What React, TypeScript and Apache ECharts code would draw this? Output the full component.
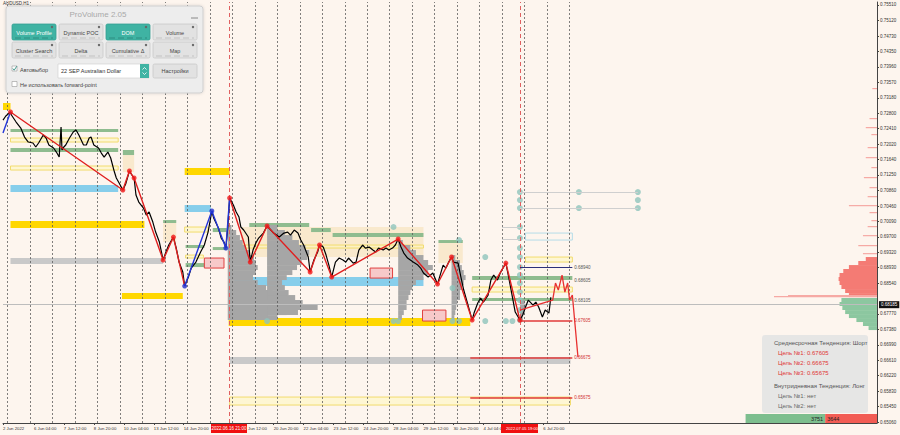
import React, { useEffect, useRef } from "react";
import * as echarts from "echarts";

// ---------- axes ----------
const yLabelValues = [0.7551, 0.7512, 0.7473, 0.7435, 0.7396, 0.7357, 0.7318, 0.728, 0.7241, 0.7202, 0.7164, 0.7125, 0.7086, 0.7046, 0.7009, 0.697, 0.6932, 0.6893, 0.6854, 0.6777, 0.6738, 0.6699, 0.6661, 0.6622, 0.6583, 0.6545, 0.6506];
const xLabelBars = [-29, 4, 36, 68, 100, 132, 164, 260, 292, 324, 356, 388, 420, 452, 484, 548];
const xLabelTexts = ["2 Jun 2022", "6 Jun 04:00", "7 Jun 12:00", "8 Jun 20:00", "10 Jun 04:00", "13 Jun 12:00", "14 Jun 20:00", "20 Jun 20:00", "22 Jun 04:00", "23 Jun 12:00", "24 Jun 20:00", "28 Jun 04:00", "29 Jun 12:00", "30 Jun 20:00", "4 Jul 04:00", "6 Jul 20:00"];
const daySeparators = [-24, 0, 24, 48, 72, 96, 120, 144, 168, 192, 216, 240, 264, 288, 312, 336, 360, 384, 408, 432, 456, 480, 504, 528, 552, 576];
const markedBars = [213, 523];
const currentPrice = 0.68185;

// ---------- price (H1 close path) ----------
const priceBars = [-29, -26, -21, -20, -15, -10, -6, -2, 3, 6, 9, 14, 17, 20, 25, 28, 31, 33, 34, 35, 38, 42, 46, 49, 52, 57, 60, 63, 65, 68, 73, 76, 79, 83, 86, 90, 92, 95, 99, 102, 106, 110, 111, 113, 116, 121, 124, 127, 131, 134, 138, 142, 145, 148, 153, 156, 159, 163, 165, 169, 172, 177, 182, 186, 190, 194, 196, 201, 204, 207, 209, 211, 213, 217, 220, 223, 225, 228, 233, 235, 238, 241, 244, 249, 253, 255, 260, 266, 271, 275, 278, 282, 286, 289, 292, 297, 299, 303, 307, 309, 313, 316, 319, 322, 326, 330, 334, 337, 340, 345, 348, 351, 355, 358, 362, 366, 369, 372, 377, 380, 383, 387, 390, 393, 396, 399, 403, 409, 414, 417, 420, 425, 430, 435, 441, 444, 447, 450, 452, 457, 460, 463, 467, 472, 474, 478, 481, 484, 489, 492, 495, 499, 502, 508, 511, 515, 518, 523, 526, 529, 532, 537, 540, 543, 547, 550, 554, 556];
const priceValues = [0.72627, 0.72728, 0.72828, 0.72753, 0.72577, 0.72427, 0.72201, 0.72076, 0.72051, 0.71951, 0.72051, 0.72252, 0.72176, 0.72001, 0.71926, 0.71825, 0.717, 0.72452, 0.71876, 0.71926, 0.72001, 0.72176, 0.72327, 0.72377, 0.72252, 0.72001, 0.72001, 0.72176, 0.72201, 0.72001, 0.71926, 0.718, 0.717, 0.71825, 0.71675, 0.71324, 0.71174, 0.71048, 0.70873, 0.71023, 0.71349, 0.71199, 0.71174, 0.70748, 0.70572, 0.70422, 0.70247, 0.70322, 0.70071, 0.6982, 0.6957, 0.69119, 0.69319, 0.69495, 0.69695, 0.69419, 0.69068, 0.68818, 0.68467, 0.68692, 0.68918, 0.69068, 0.69319, 0.69495, 0.6982, 0.70347, 0.70171, 0.69921, 0.6967, 0.6957, 0.69419, 0.69921, 0.70673, 0.70497, 0.70322, 0.70196, 0.69946, 0.69871, 0.69695, 0.69068, 0.69369, 0.69545, 0.6967, 0.69795, 0.69971, 0.69921, 0.69795, 0.69695, 0.69795, 0.6982, 0.69745, 0.69871, 0.69795, 0.6962, 0.69495, 0.69194, 0.68818, 0.69119, 0.69319, 0.69495, 0.69444, 0.69244, 0.68993, 0.68692, 0.69068, 0.69169, 0.69119, 0.69068, 0.69169, 0.69043, 0.69068, 0.69369, 0.69495, 0.69419, 0.69444, 0.69369, 0.69319, 0.69419, 0.69369, 0.69419, 0.69369, 0.69419, 0.69495, 0.69645, 0.69444, 0.69294, 0.69169, 0.69068, 0.68993, 0.68918, 0.68793, 0.68692, 0.68793, 0.68517, 0.68993, 0.68918, 0.69068, 0.69194, 0.69068, 0.69043, 0.68692, 0.68367, 0.68041, 0.67615, 0.6779, 0.68041, 0.68166, 0.68066, 0.68241, 0.68617, 0.68742, 0.68617, 0.68793, 0.69043, 0.68692, 0.68191, 0.67815, 0.67615, 0.6774, 0.67941, 0.68116, 0.67991, 0.68066, 0.67941, 0.6769, 0.67865, 0.6779, 0.68185];

// ---------- zigzag swings ----------
const zigRedABars = [-21, 99, 106, 111, 142, 153, 165];
const zigRedAValues = [0.72828, 0.70873, 0.71349, 0.71174, 0.69119, 0.69695, 0.68467];
const zigBlueABars = [-29, -21];
const zigBlueAValues = [0.72302, 0.72828];
const zigBlueBBars = [165, 194, 209, 213];
const zigBlueBValues = [0.68467, 0.70347, 0.69419, 0.70673];
const zigRedBBars = [213, 235, 253, 299, 309, 322, 393, 435, 450, 472, 508, 523];
const zigRedBValues = [0.70673, 0.69068, 0.69971, 0.68818, 0.69495, 0.68692, 0.69645, 0.68517, 0.69194, 0.67615, 0.69043, 0.67615];
const projBars = [523, 558, 561, 564, 568, 571, 574, 576, 579, 585];
const projValues = [0.67865, 0.68116, 0.68542, 0.68367, 0.68742, 0.68317, 0.68542, 0.68116, 0.68241, 0.66687];
const blueDotBars = [165, 194, 209];
const blueDotValues = [0.68467, 0.70347, 0.69419];
const redDotBars = [-21, 99, 106, 111, 142, 153, 213, 235, 253, 299, 309, 322, 393, 435, 450, 472, 508, 523];
const redDotValues = [0.72828, 0.70873, 0.71349, 0.71174, 0.69119, 0.69695, 0.70673, 0.69068, 0.69971, 0.68818, 0.69495, 0.68692, 0.69645, 0.68517, 0.69194, 0.67615, 0.69043, 0.67615];

// ---------- teal cluster points ----------
const tealBars = [523, 523, 523, 586, 586, 649, 649, 649, 523, 523, 523, 523, 523, 523, 523, 523, 523, 523, 523, 458, 486, 451, 451, 458, 486, 508, 515, 253, 388, 388, 393];
const tealValues = [0.70823, 0.70622, 0.70422, 0.70823, 0.70422, 0.70823, 0.70622, 0.70422, 0.69946, 0.6967, 0.69419, 0.69194, 0.68943, 0.68742, 0.68542, 0.68317, 0.68116, 0.67865, 0.67615, 0.6962, 0.69194, 0.68417, 0.6759, 0.6759, 0.6759, 0.6759, 0.6759, 0.6759, 0.69946, 0.6759, 0.6759];

// ---------- zones ----------
const zoneKind = ["gold", "green", "yel", "green", "yel", "blue", "gold", "gray", "gold", "tan", "green", "gold", "blue", "yel", "green", "tan", "green", "green", "yel", "green", "green", "tan", "green", "green", "green", "yel", "blue", "gold", "green", "tan", "gray", "yel", "lblue", "yel", "green", "yel", "green", "pink", "pink", "pink"];
const zoneFrom = [-29, -21, -21, -21, -21, -21, -21, -21, 98, 99, 99, 165, 165, 165, 142, 142, 166, 166, 166, 195, 195, 225, 234, 300, 323, 225, 218, 212, 436, 436, 213, 213, 529, 529, 472, 472, 472, 186, 363, 419];
const zoneTo = [-21, 94, 94, 94, 94, 94, 122, 142, 163, 111, 111, 213, 193, 190, 156, 156, 186, 190, 185, 210, 210, 420, 298, 321, 420, 420, 420, 470, 462, 462, 577, 577, 579, 579, 579, 579, 579, 207, 387, 444];
const zoneHigh = [0.73054, 0.72402, 0.72176, 0.71926, 0.71475, 0.70998, 0.70096, 0.69169, 0.68291, 0.7175, 0.71876, 0.71424, 0.70497, 0.69946, 0.70121, 0.70046, 0.69495, 0.69043, 0.69244, 0.69921, 0.69444, 0.69946, 0.70046, 0.69921, 0.69795, 0.69495, 0.68692, 0.67665, 0.6962, 0.69545, 0.66687, 0.65685, 0.69795, 0.69194, 0.68718, 0.68442, 0.68166, 0.69169, 0.68918, 0.67865];
const zoneLow = [0.72878, 0.72327, 0.72076, 0.71825, 0.71374, 0.70823, 0.69921, 0.69018, 0.68141, 0.71324, 0.7175, 0.71249, 0.70322, 0.6982, 0.70046, 0.6957, 0.69419, 0.68943, 0.69169, 0.6982, 0.69369, 0.69194, 0.69946, 0.6982, 0.69695, 0.69419, 0.68467, 0.67464, 0.69545, 0.69043, 0.66512, 0.65485, 0.6962, 0.69068, 0.68617, 0.68317, 0.68091, 0.68918, 0.68667, 0.6759];

// ---------- volume profiles (start bar, level top, length in bars) ----------
const profStart = [211, 211, 211, 211, 211, 211, 211, 211, 211, 211, 211, 211, 211, 211, 211, 211, 211, 211, 211,
  253, 253, 253, 253, 253, 253, 253, 253, 253, 253, 253, 253, 253, 253, 253, 253, 253, 253, 253,
  393, 393, 393, 393, 393, 393, 393, 393, 393, 393, 393, 393, 393, 393, 393, 393,
  450, 450, 450, 450, 450, 450, 450, 450, 450, 450, 450, 450, 450,
  523, 523, 523, 523];
const profTop = [0.69996, 0.69871, 0.69745, 0.6962, 0.69495, 0.69369, 0.69244, 0.69119, 0.68993, 0.68868, 0.68742, 0.68617, 0.68492, 0.68367, 0.68241, 0.68116, 0.67991, 0.67865, 0.6774,
  0.69996, 0.69871, 0.69745, 0.6962, 0.69495, 0.69369, 0.69244, 0.69119, 0.68993, 0.68868, 0.68742, 0.68617, 0.68492, 0.68367, 0.68241, 0.68116, 0.67991, 0.67865, 0.6774,
  0.6962, 0.69495, 0.69369, 0.69244, 0.69119, 0.68993, 0.68868, 0.68742, 0.68617, 0.68492, 0.68367, 0.68241, 0.68116, 0.67991, 0.67865, 0.6774,
  0.69244, 0.69119, 0.68993, 0.68868, 0.68742, 0.68617, 0.68492, 0.68367, 0.68241, 0.68116, 0.67991, 0.67865, 0.6774,
  0.68116, 0.67991, 0.67865, 0.6774];
const profLen = [4, 9, 13, 16, 19, 23, 28, 30, 32, 30, 27, 32, 41, 48, 64, 80, 96, 75, 43,
  11, 19, 27, 34, 41, 45, 43, 37, 32, 27, 21, 16, 19, 23, 30, 37, 32, 21, 11,
  5, 13, 19, 27, 32, 37, 32, 27, 19, 15, 13, 11, 9, 9, 6, 4,
  4, 9, 11, 13, 15, 13, 11, 9, 9, 6, 5, 4, 3,
  5, 6, 5, 3];

// ---------- right-side market profile (anchored to the right edge) ----------
const sideTop = [0.69194, 0.69094, 0.68993, 0.68893, 0.68793, 0.68692, 0.68592, 0.68492, 0.68392, 0.68291, 0.68166, 0.68066, 0.67966, 0.67865, 0.67765, 0.67665, 0.67565, 0.67464];
const sideLen = [12, 20, 30, 36, 40, 41, 40, 38, 34, 30, 38, 40, 37, 34, 30, 22, 15, 9];
const sideSide = ["s", "s", "s", "s", "s", "s", "s", "s", "s", "s", "b", "b", "b", "b", "b", "b", "b", "b"];
const thinTop = [0.7343, 0.72678, 0.72452, 0.72277, 0.71951, 0.717, 0.7145, 0.71199, 0.70948, 0.70722, 0.70497, 0.70322, 0.70121, 0.69971, 0.69745, 0.69495, 0.69294, 0.68241, 0.68216];
const thinLen = [5, 8, 12, 6, 10, 12, 6, 14, 8, 10, 30, 8, 6, 10, 15, 20, 15, 95, 110];
const buyTotal = 3751;
const sellTotal = 3644;

// ---------- target levels ----------
const levelValues = [0.6894, 0.68605, 0.68105, 0.67605, 0.66675, 0.65675];
const levelFrom = [523, 472, 472, 523, 470, 470];
const levelKind = ["navy", "none", "none", "red", "red", "red"];

const FONT = "Liberation Sans, Arial, sans-serif";

function withZ(children: any[], z: number) {
  return children.map((c) => ({ ...c, z }));
}

function buildOption() {
  const zoneStyles: Record<string, any> = {
    gold: { color: "#FFD700" },
    green: { color: "#8FBC8F" },
    yel: { color: "rgba(255,246,190,0.55)", borderColor: "#F2DC6E", borderWidth: 1 },
    blue: { color: "#87CEEB" },
    gray: { color: "#C9C9C9" },
    tan: { color: "rgba(245,222,179,0.55)" },
    lblue: { color: "rgba(0,0,0,0)", borderColor: "#B5DCE8", borderWidth: 1 },
    pink: { color: "#F7C9C9", borderColor: "#E04040", borderWidth: 1 },
  };
  const zones = zoneKind.map((k, i) => [
    { xAxis: zoneFrom[i], yAxis: zoneHigh[i], itemStyle: zoneStyles[k] },
    { xAxis: zoneTo[i], yAxis: zoneLow[i] },
  ]);
  const pair = (bs: number[], vs: number[]) => bs.map((b, i) => [b, vs[i]]);

  const vLines: any[] = daySeparators.map((d) => ({
    xAxis: d,
    lineStyle: { color: "#555", type: [2, 2], width: 1, opacity: 0.75 },
  }));
  markedBars.forEach((b) =>
    vLines.push({ xAxis: b, lineStyle: { color: "#E06060", type: [4, 3], width: 1 } })
  );
  const levelLines: any[] = levelValues.map((v, i) => {
    const k = levelKind[i];
    const color = k === "navy" ? "#2A2F7A" : k === "red" ? "#E03A3A" : "rgba(0,0,0,0)";
    return [
      {
        coord: [levelFrom[i], v],
        lineStyle: { color, width: k === "red" ? 1.5 : 1, type: "solid" },
        label: {
          show: true,
          position: "end",
          formatter: v.toFixed(5),
          fontSize: 4.5,
          fontFamily: FONT,
          color: k === "red" ? "#D03030" : "#555",
          distance: 2,
        },
      },
      { coord: [579, v] },
    ];
  });
  const tealLines = [
    [{ coord: [523, 0.70823] }, { coord: [649, 0.70823] }],
    [{ coord: [523, 0.70422] }, { coord: [649, 0.70422] }],
    [{ coord: [504, 0.69946] }, { coord: [523, 0.69946] }],
    [{ coord: [504, 0.69645] }, { coord: [523, 0.69645] }],
  ].map((l: any) => {
    l[0].lineStyle = { color: "#CFCFCF", width: 1, type: "solid" };
    l[0].label = { show: false };
    return l;
  });

  const barH = 0.00125;
  const sideH = 0.001;
  const xMax = 904.33;

  const sideData = [
    ...sideTop.map((t, i) => [t, sideLen[i], sideSide[i] === "s" ? 1 : 0, sideH]),
    ...thinTop.map((t, i) => [t, thinLen[i], 2, 0.0003]),
  ];

  return {
    animation: false,
    backgroundColor: "#FDF5EE",
    grid: { left: 2, right: 23, top: 2, bottom: 12, containLabel: false },
    xAxis: {
      type: "value",
      min: -29,
      max: xMax,
      axisLine: { show: true, onZero: false, lineStyle: { color: "#444", width: 1 } },
      axisTick: { show: true, length: 2, customValues: xLabelBars, lineStyle: { color: "#444" } },
      splitLine: { show: false },
      axisLabel: {
        customValues: xLabelBars,
        formatter: (v: number) => {
          const i = xLabelBars.indexOf(Math.round(v));
          return i >= 0 ? xLabelTexts[i] : "";
        },
        fontSize: 4.3,
        fontFamily: FONT,
        color: "#333",
        align: "left",
        margin: 3,
      },
    },
    yAxis: {
      type: "value",
      position: "right",
      min: 0.65035,
      max: 0.75585,
      axisLine: { show: true, onZero: false, lineStyle: { color: "#444", width: 1 } },
      axisTick: { show: true, length: 2, customValues: yLabelValues, lineStyle: { color: "#444" } },
      splitLine: { show: false },
      axisLabel: {
        customValues: yLabelValues,
        formatter: (v: number) => v.toFixed(5),
        fontSize: 4.5,
        fontFamily: FONT,
        color: "#333",
        margin: 3,
      },
    },
    series: [
      {
        name: "zones",
        type: "line",
        data: [],
        z: 1,
        markArea: { silent: true, data: zones, label: { show: false } },
        markLine: {
          silent: true,
          symbol: "none",
          label: { show: false },
          data: [
            ...vLines,
            {
              yAxis: currentPrice,
              lineStyle: { color: "#BDBDBD", width: 1, type: "solid" },
              label: {
                show: true,
                position: "end",
                formatter: currentPrice.toFixed(5),
                backgroundColor: "#111",
                color: "#fff",
                fontSize: 4.5,
                fontFamily: FONT,
                padding: [1, 2],
                distance: 2,
              },
            },
            ...tealLines,
            ...levelLines,
          ],
        },
      },
      {
        name: "profiles",
        type: "custom",
        z: 2,
        data: profStart.map((s, i) => [s, profTop[i], profLen[i]]),
        renderItem: (_p: any, api: any) => {
          const a = api.coord([api.value(0), api.value(1)]);
          const b = api.coord([api.value(0) + api.value(2), api.value(1) - barH]);
          return {
            type: "rect",
            shape: { x: a[0], y: a[1], width: b[0] - a[0], height: b[1] - a[1] },
            style: { fill: "#A6A6A6" },
          };
        },
      },
      {
        name: "sideProfile",
        type: "custom",
        z: 2,
        data: sideData,
        renderItem: (_p: any, api: any) => {
          const right = api.coord([xMax, api.value(0)]);
          const left = api.coord([xMax - api.value(1), api.value(0) - api.value(3)]);
          const kind = api.value(2);
          const fill = kind === 1 ? "#F47B74" : kind === 0 ? "#8CC7A0" : "#F6A9A4";
          return {
            type: "rect",
            shape: { x: left[0], y: right[1], width: right[0] - left[0], height: Math.max(1, left[1] - right[1]) },
            style: { fill },
          };
        },
      },
      {
        name: "totals",
        type: "custom",
        z: 3,
        data: [[buyTotal, 0], [sellTotal, 1]],
        renderItem: (_p: any, api: any) => {
          const isSell = api.value(1) === 1;
          const x0 = isSell ? 849 : 764;
          const x1 = isSell ? xMax : 849;
          const a = api.coord([x0, 0.65259]);
          const b = api.coord([x1, 0.65035]);
          return {
            type: "group",
            children: [
              { type: "rect", shape: { x: a[0], y: a[1], width: b[0] - a[0], height: b[1] - a[1] }, style: { fill: isSell ? "#F25C54" : "#7DBE8E" } },
              {
                type: "text",
                x: isSell ? a[0] + 2 : b[0] - 2,
                y: (a[1] + b[1]) / 2,
                style: { text: String(api.value(0)), fill: "#222", fontSize: 5.5, fontFamily: FONT, align: isSell ? "left" : "right", verticalAlign: "middle" },
              },
            ],
          };
        },
      },
      {
        name: "price",
        type: "line",
        z: 5,
        data: pair(priceBars, priceValues),
        showSymbol: false,
        lineStyle: { color: "#000", width: 1.2 },
      },
      { name: "zigRedA", type: "line", z: 6, data: pair(zigRedABars, zigRedAValues), showSymbol: false, lineStyle: { color: "#E02020", width: 1.4 } },
      { name: "zigRedB", type: "line", z: 6, data: pair(zigRedBBars, zigRedBValues), showSymbol: false, lineStyle: { color: "#E02020", width: 1.4 } },
      { name: "zigBlueA", type: "line", z: 6, data: pair(zigBlueABars, zigBlueAValues), showSymbol: false, lineStyle: { color: "#2436D8", width: 1.4 } },
      { name: "zigBlueB", type: "line", z: 6, data: pair(zigBlueBBars, zigBlueBValues), showSymbol: false, lineStyle: { color: "#2436D8", width: 1.4 } },
      { name: "projection", type: "line", z: 6, data: pair(projBars, projValues), showSymbol: false, lineStyle: { color: "#E83030", width: 1.3 } },
      { name: "redDots", type: "scatter", z: 7, data: pair(redDotBars, redDotValues), symbolSize: 5, itemStyle: { color: "#F01818" } },
      { name: "blueDots", type: "scatter", z: 7, data: pair(blueDotBars, blueDotValues), symbolSize: 5, itemStyle: { color: "#1E2FD0" } },
      { name: "teal", type: "scatter", z: 4, data: pair(tealBars, tealValues), symbolSize: 6, itemStyle: { color: "#8EC4BC" } },
    ],
    graphic: [
      { type: "text", z: 100, left: 3, top: 1, style: { text: "AUDUSD,H1", fontSize: 4.5, fontFamily: FONT, fill: "#333" } },
      // red date boxes on the time axis
      { type: "rect", z: 100, shape: { x: 211, y: 424, width: 36, height: 9 }, style: { fill: "#F01010" } },
      { type: "text", z: 101, x: 229, y: 428.5, style: { text: "2022.06.16 21:00", fontSize: 4.5, fontFamily: FONT, fill: "#fff", align: "center", verticalAlign: "middle" } },
      { type: "text", z: 101, x: 248, y: 428.5, style: { text: "Jun 12:00", fontSize: 4.3, fontFamily: FONT, fill: "#333", verticalAlign: "middle" } },
      { type: "rect", z: 100, shape: { x: 501, y: 424, width: 37, height: 9 }, style: { fill: "#F01010" } },
      { type: "text", z: 101, x: 522, y: 428.5, style: { text: "2022.07.05 19:00", fontSize: 4.1, fontFamily: FONT, fill: "#fff", align: "center", verticalAlign: "middle" } },
      // ProVolume panel
      {
        type: "group",
        z: 100,
        children: withZ([
          { type: "rect", shape: { x: 6, y: 6, width: 197, height: 87, r: 3 }, style: { fill: "#EDEDED", stroke: "#CFCFCF", lineWidth: 1, shadowBlur: 3, shadowColor: "rgba(0,0,0,0.15)" } },
          { type: "text", x: 98, y: 14, style: { text: "ProVolume 2.05", fontSize: 8, fontFamily: FONT, fill: "#A9A9A9", align: "center", verticalAlign: "middle" } },
          { type: "line", shape: { x1: 191, y1: 18, x2: 198, y2: 18 }, style: { stroke: "#888", lineWidth: 1 } },
          ...[
            ["Volume Profile", 12, 24, true],
            ["Dynamic POC", 59, 24, false],
            ["DOM", 106, 24, true],
            ["Volume", 153, 24, false],
            ["Cluster Search", 12, 42, false],
            ["Delta", 59, 42, false],
            ["Cumulative \u0394", 106, 42, false],
            ["Map", 153, 42, false],
          ].flatMap(([t, x, y, on]: any) => [
            { type: "rect", shape: { x, y, width: 44, height: 16, r: 1.5 }, style: { fill: on ? "#3FB3A3" : "#E2E2E2", stroke: on ? "#36A092" : "#C9C9C9", lineWidth: 0.8 } },
            { type: "text", x: x + 22, y: y + 8.5, style: { text: t, fontSize: 5.5, fontFamily: FONT, fill: on ? "#fff" : "#444", align: "center", verticalAlign: "middle" } },
            { type: "line", shape: { x1: x + 3, y1: y + 14, x2: x + 41, y2: y + 14 }, style: { stroke: on ? "#2E8C80" : "#C2C2C2", lineWidth: 1, lineDash: [6, 3] } },
            { type: "circle", shape: { cx: x + 40, cy: y + 3, r: 1.2 }, style: { fill: "#666" } },
          ]),
          { type: "rect", shape: { x: 12, y: 66, width: 5, height: 5 }, style: { fill: "#fff", stroke: "#999", lineWidth: 0.6 } },
          { type: "polyline", shape: { points: [[12.8, 68.5], [14.2, 70.2], [16.8, 66.2]] }, style: { stroke: "#2E8C80", lineWidth: 0.9, fill: "none" } },
          { type: "text", x: 20, y: 70, style: { text: "\u0410\u0432\u0442\u043e\u0432\u044b\u0431\u043e\u0440", fontSize: 5.5, fontFamily: FONT, fill: "#444", verticalAlign: "middle" } },
          { type: "rect", shape: { x: 58, y: 64, width: 91, height: 14 }, style: { fill: "#FFFFFF", stroke: "#CFCFCF", lineWidth: 0.6 } },
          { type: "rect", shape: { x: 140, y: 64, width: 9, height: 14 }, style: { fill: "#3FB3A3" } },
          { type: "polyline", shape: { points: [[142.5, 69.5], [144.5, 67.5], [146.5, 69.5]] }, style: { stroke: "#fff", lineWidth: 0.8, fill: "none" } },
          { type: "polyline", shape: { points: [[142.5, 72.5], [144.5, 74.5], [146.5, 72.5]] }, style: { stroke: "#fff", lineWidth: 0.8, fill: "none" } },
          { type: "text", x: 61, y: 71, style: { text: "22 SEP Australian Dollar", fontSize: 5.5, fontFamily: FONT, fill: "#333", verticalAlign: "middle" } },
          { type: "rect", shape: { x: 153, y: 64, width: 44, height: 14, r: 1.5 }, style: { fill: "#E2E2E2", stroke: "#C9C9C9", lineWidth: 0.8 } },
          { type: "text", x: 175, y: 71, style: { text: "\u041d\u0430\u0441\u0442\u0440\u043e\u0439\u043a\u0438", fontSize: 5.5, fontFamily: FONT, fill: "#444", align: "center", verticalAlign: "middle" } },
          { type: "rect", shape: { x: 12, y: 81.5, width: 5, height: 5 }, style: { fill: "#fff", stroke: "#999", lineWidth: 0.6 } },
          { type: "text", x: 20, y: 84.5, style: { text: "\u041d\u0435 \u0438\u0441\u043f\u043e\u043b\u044c\u0437\u043e\u0432\u0430\u0442\u044c forward-point", fontSize: 5.5, fontFamily: FONT, fill: "#444", verticalAlign: "middle" } },
        ], 100),
      },
      // trend info panel
      {
        type: "group",
        z: 100,
        children: withZ([
          { type: "rect", shape: { x: 762, y: 335, width: 106, height: 78, r: 3 }, style: { fill: "rgba(228,228,228,0.92)" } },
          { type: "text", x: 774, y: 343, style: { text: "\u0421\u0440\u0435\u0434\u043d\u0435\u0441\u0440\u043e\u0447\u043d\u0430\u044f \u0422\u0435\u043d\u0434\u0435\u043d\u0446\u0438\u044f: \u0428\u043e\u0440\u0442", fontSize: 6, fontFamily: FONT, fill: "#555", verticalAlign: "middle" } },
          { type: "text", x: 778, y: 353, style: { text: "\u0426\u0435\u043b\u044c \u21161: 0.67605", fontSize: 6, fontFamily: FONT, fill: "#E03434", verticalAlign: "middle" } },
          { type: "text", x: 778, y: 363, style: { text: "\u0426\u0435\u043b\u044c \u21162: 0.66675", fontSize: 6, fontFamily: FONT, fill: "#E03434", verticalAlign: "middle" } },
          { type: "text", x: 778, y: 373, style: { text: "\u0426\u0435\u043b\u044c \u21163: 0.65675", fontSize: 6, fontFamily: FONT, fill: "#E03434", verticalAlign: "middle" } },
          { type: "text", x: 774, y: 386, style: { text: "\u0412\u043d\u0443\u0442\u0440\u0438\u0434\u043d\u0435\u0432\u043d\u0430\u044f \u0422\u0435\u043d\u0434\u0435\u043d\u0446\u0438\u044f: \u041b\u043e\u043d\u0433", fontSize: 6, fontFamily: FONT, fill: "#555", verticalAlign: "middle" } },
          { type: "text", x: 778, y: 396, style: { text: "\u0426\u0435\u043b\u044c \u21161: \u043d\u0435\u0442", fontSize: 6, fontFamily: FONT, fill: "#666", verticalAlign: "middle" } },
          { type: "text", x: 778, y: 406, style: { text: "\u0426\u0435\u043b\u044c \u21162: \u043d\u0435\u0442", fontSize: 6, fontFamily: FONT, fill: "#666", verticalAlign: "middle" } },
        ], 100),
      },
    ],
  };
}

export default function App() {
  const ref = useRef<HTMLDivElement>(null);
  useEffect(() => {
    if (!ref.current) return;
    const chart = echarts.init(ref.current, null, { renderer: "svg" });
    chart.setOption(buildOption() as any);
    return () => chart.dispose();
  }, []);
  return <div ref={ref} style={{ position: "fixed", left: 0, top: 0, width: 900, height: 435 }} />;
}
